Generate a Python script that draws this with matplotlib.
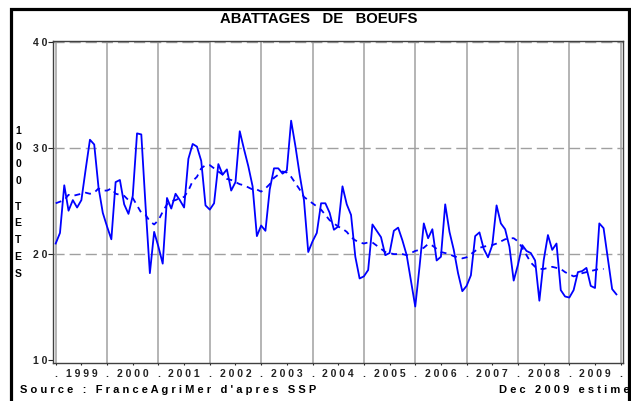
import numpy as np
import matplotlib
matplotlib.use("Agg")
import matplotlib.pyplot as plt
from matplotlib.patches import Rectangle

# abattages mensuels de boeufs (1000 tetes), janvier 1999 -> decembre 2009
abattages = [
    21.0, 22.0, 26.5, 24.1, 25.1, 24.4, 25.1, 28.0, 30.8, 30.35, 26.3, 23.9,   # 1999
    22.6, 21.4, 26.8, 27.0, 24.7, 23.8, 25.5, 31.4, 31.3, 24.5, 18.2, 22.1,    # 2000
    20.7, 19.1, 25.3, 24.3, 25.7, 25.1, 24.4, 29.0, 30.4, 30.15, 28.8, 24.6,   # 2001
    24.2, 24.8, 28.5, 27.5, 28.0, 26.0, 26.8, 31.6, 29.9, 28.3, 26.4, 21.7,    # 2002
    22.7, 22.2, 26.1, 28.1, 28.1, 27.6, 27.9, 32.6, 30.2, 27.5, 25.1, 20.2,    # 2003
    21.2, 22.0, 24.8, 24.8, 23.9, 22.3, 22.6, 26.4, 24.7, 23.7, 19.75, 17.7,   # 2004
    17.9, 18.5, 22.8, 22.2, 21.6, 19.9, 20.1, 22.2, 22.5, 21.3, 19.9, 17.5,    # 2005
    15.05, 18.8, 22.9, 21.5, 22.35, 19.4, 19.75, 24.7, 22.1, 20.4, 18.2, 16.5, # 2006
    17.0, 18.0, 21.7, 22.05, 20.5, 19.7, 20.85, 24.6, 22.9, 22.35, 20.7, 17.5, # 2007
    19.0, 20.85, 20.3, 20.1, 19.4, 15.6, 19.4, 21.8, 20.4, 21.0, 16.6, 16.0,   # 2008
    15.9, 16.6, 18.3, 18.4, 18.7, 17.0, 16.8, 22.9, 22.45, 19.6, 16.7, 16.2,   # 2009
]

# tendance (s'arrete en septembre 2009)
tendance = [
    24.8, 24.95, 25.1, 25.6, 25.5, 25.6, 25.7, 25.8, 25.7, 25.8, 26.2, 26.0,
    26.0, 26.2, 25.7, 25.6, 25.5, 25.1, 25.3, 24.6, 23.9, 23.7, 23.1, 22.8,
    23.2, 24.0, 24.7, 25.0, 25.1, 25.3, 25.4, 26.0, 26.9, 27.3, 28.1, 28.4,
    28.4, 28.1, 27.8, 27.5, 27.1, 27.0, 26.8, 26.6, 26.5, 26.3, 26.1, 26.1,
    25.9, 26.2, 26.6, 27.2, 27.5, 27.8, 27.7, 27.3, 26.7, 26.1, 25.4, 25.1,
    24.8, 24.5, 24.2, 23.7, 23.2, 22.9, 22.6, 22.4, 22.1, 21.6, 21.3, 21.1,
    21.0, 21.1, 21.1, 20.8, 20.5, 20.2, 20.1, 20.0, 20.0, 20.0, 19.9, 20.1,
    20.3, 20.4, 20.6, 20.95, 20.8, 20.5, 20.2, 20.1, 20.0, 19.8, 19.7, 19.6,
    19.7, 20.0, 20.3, 20.6, 20.7, 20.8, 20.85, 21.0, 21.2, 21.4, 21.5, 21.5,
    21.2, 20.6, 19.9, 19.2, 18.8, 18.6, 18.6, 18.7, 18.8, 18.7, 18.6, 18.3,
    18.1, 17.9, 18.0, 18.2, 18.3, 18.4, 18.5, 18.6, 18.6,
]

annees = list(range(1999, 2010))
graduations_y = [10, 20, 30, 40]

titre = "ABATTAGES   DE   BOEUFS"
label_y = ["1000", "TETES"]
source = ["Source", ":", "FranceAgriMer", "d'apres", "SSP"]
note = ["Dec", "2009", "estime"]


def espace(mots):
    # lettres espacees comme dans l'original
    return "   ".join(" ".join(m) for m in mots)


plt.rcParams["font.family"] = ["Liberation Sans", "DejaVu Sans"]
plt.rcParams["font.weight"] = "bold"

W, H = 637, 401
fig = plt.figure(figsize=(W / 100, H / 100), dpi=100)
ax = fig.add_axes([53 / W, 1 - 363 / H, (622.7 - 53) / W, (363 - 40.7) / H])

x1 = 1999 + np.arange(len(abattages)) / 12
x2 = 1999 + np.arange(len(tendance)) / 12

# grille
for a in annees + [2010]:
    ax.axvline(a, color="#a8a8a8", lw=1.2, zorder=1)
for v in [20, 30, 40]:
    ax.axhline(v, color="#a0a0a0", lw=1.0, dashes=(8, 3.6), zorder=1)

ax.plot(x1, abattages, color="#0000ff", lw=1.3, zorder=3)
ax.plot(x2, tendance, color="#0000ff", lw=1.3, dashes=(3.3, 2.8), zorder=3)

ax.set_xlim(1999 - 2.7 / 51.36, 2010 + 2 / 51.36)
ax.set_ylim(9.72, 40.15)

for s in ax.spines.values():
    s.set_color("#404040")
    s.set_linewidth(1.0)

ax.set_yticks(graduations_y)
ax.set_yticklabels([" ".join(str(v)) for v in graduations_y])
ax.tick_params(axis="y", direction="out", length=3.3, width=0.8, pad=1,
               labelsize=7.5, colors="#222222")

ax.set_xticks(annees + [2010])
ax.set_xticklabels(["."] * (len(annees) + 1))
ax.set_xticks([a + 0.5 for a in annees], minor=True)
ax.set_xticklabels([" ".join(str(a)) for a in annees], minor=True)
ax.tick_params(axis="x", which="both", direction="out", length=1.6, width=0.8,
               pad=2.5, labelsize=7.5, colors="#222222")

# titre
fig.text(318.5 / W, 1 - 23.3 / H, titre, ha="center", va="baseline",
         fontsize=10.7, fontweight="bold")

# label vertical "1000 TETES"
debuts = [130.7, 206.7]
for mot, y0 in zip(label_y, debuts):
    for k, c in enumerate(mot):
        fig.text(18 / W, 1 - (y0 + 16.75 * k) / H, c, ha="center", va="center",
                 fontsize=7.5, fontweight="bold")

fig.text(20 / W, 1 - 393 / H, espace(source), ha="left", va="baseline",
         fontsize=8, fontweight="bold")
fig.text(499 / W, 1 - 393 / H, espace(note), ha="left", va="baseline",
         fontsize=8, fontweight="bold")

# cadre noir
cadre = Rectangle((11 / W, -0.1), (629 - 11) / W, 1.1 - 9 / H,
                  transform=fig.transFigure, fill=False, ec="black", lw=2.3,
                  zorder=10)
fig.patches.append(cadre)
fig.patches.append(Rectangle((630.5 / W, 0), 1, 1, transform=fig.transFigure,
                             fc="white", ec="none", zorder=11))

fig.savefig("out.png", dpi=100)
